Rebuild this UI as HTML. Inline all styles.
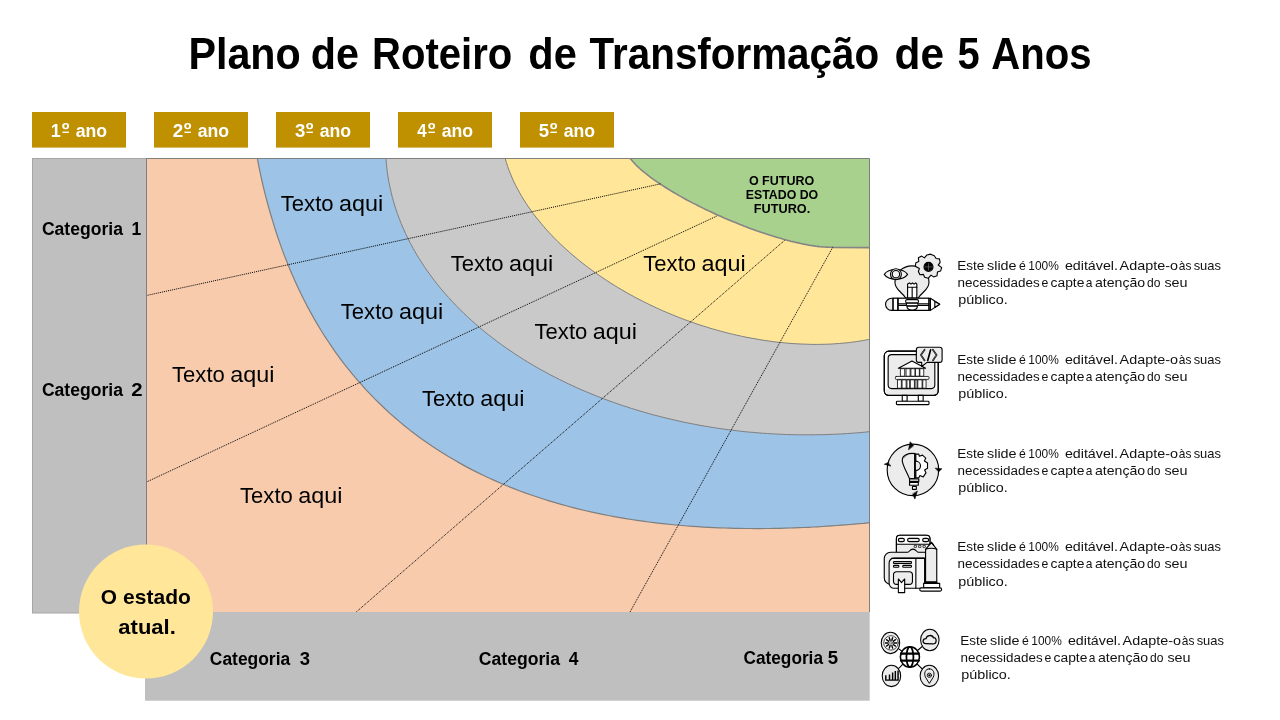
<!DOCTYPE html>
<html lang="pt"><head><meta charset="utf-8"><title>Plano de Roteiro de Transformação de 5 Anos</title>
<style>
html,body{margin:0;padding:0;background:#fff}
body{width:1280px;height:720px;overflow:hidden}
svg{display:block;will-change:transform;font-family:"Liberation Sans", sans-serif}
text{white-space:pre}
</style></head><body>
<svg width="1280" height="720" viewBox="0 0 1280 720">
<defs><clipPath id="cp"><rect x="146.5" y="158.5" width="723.0" height="453.5"/></clipPath></defs>
<rect width="1280" height="720" fill="#fff"/>
<rect x="32.5" y="158.5" width="114" height="454.5" fill="#bfbfbf" stroke="#a6a6a6" stroke-width="1"/>
<rect x="145" y="612" width="724.7" height="88.7" fill="#bfbfbf"/>
<g clip-path="url(#cp)">
<rect x="146.5" y="158.5" width="723.0" height="453.5" fill="#f8cbad"/>
<path d="M885.6,521.0 L881.2,521.5 L876.8,522.0 L872.4,522.4 L867.9,522.8 L863.5,523.3 L859.0,523.7 L854.5,524.1 L850.0,524.5 L845.5,524.8 L840.9,525.2 L836.3,525.5 L831.7,525.9 L827.1,526.2 L822.5,526.5 L817.8,526.8 L813.2,527.0 L808.5,527.3 L803.7,527.5 L799.0,527.7 L794.2,527.9 L789.4,528.0 L784.6,528.2 L779.7,528.3 L774.8,528.4 L769.9,528.5 L765.0,528.5 L760.0,528.6 L755.0,528.6 L750.0,528.5 L744.9,528.5 L739.8,528.4 L734.7,528.3 L729.6,528.2 L724.4,528.0 L719.2,527.8 L713.9,527.6 L708.7,527.4 L703.4,527.1 L698.0,526.7 L692.6,526.4 L687.2,526.0 L681.8,525.5 L676.3,525.0 L670.8,524.5 L665.3,523.9 L659.8,523.3 L654.2,522.7 L648.5,522.0 L642.9,521.2 L637.2,520.4 L631.5,519.5 L625.8,518.6 L620.0,517.6 L614.2,516.6 L608.4,515.5 L602.6,514.4 L596.7,513.1 L590.8,511.8 L584.9,510.5 L579.0,509.1 L573.1,507.6 L567.1,506.0 L561.1,504.4 L555.2,502.7 L549.2,500.9 L543.2,499.0 L537.2,497.0 L531.2,495.0 L525.2,492.9 L519.2,490.7 L513.3,488.4 L507.3,486.0 L501.3,483.5 L495.4,480.9 L489.5,478.2 L483.6,475.5 L477.7,472.6 L471.8,469.6 L466.0,466.6 L460.2,463.4 L454.5,460.1 L448.8,456.8 L443.1,453.3 L437.5,449.7 L431.9,446.1 L426.4,442.3 L421.0,438.4 L415.6,434.4 L410.3,430.4 L405.0,426.2 L399.8,421.9 L394.7,417.5 L389.6,413.1 L384.7,408.5 L379.8,403.8 L375.0,399.1 L370.3,394.2 L365.6,389.3 L361.1,384.2 L356.6,379.1 L352.2,373.9 L347.9,368.6 L343.7,363.3 L339.6,357.8 L335.6,352.3 L331.7,346.7 L327.9,341.0 L324.1,335.3 L320.5,329.5 L317.0,323.6 L313.5,317.6 L310.2,311.6 L306.9,305.6 L303.8,299.4 L300.7,293.3 L297.7,287.0 L294.9,280.7 L292.1,274.4 L289.4,268.0 L286.8,261.6 L284.2,255.1 L281.8,248.6 L279.5,242.1 L277.2,235.5 L275.0,228.8 L273.0,222.2 L271.0,215.5 L269.0,208.7 L267.2,202.0 L265.4,195.2 L263.7,188.4 L262.1,181.5 L260.6,174.6 L259.1,167.7 L257.8,160.8 L256.4,153.8 L255.2,146.9 L254.0,139.9 L252.9,132.8 L252.9,100 L900,100 L900,521.0 Z" fill="#9dc3e6" stroke="#7f7f7f" stroke-width="1.2" stroke-linejoin="round"/>
<path d="M881.4,430.3 L878.1,430.7 L874.7,431.1 L871.4,431.5 L868.0,431.8 L864.6,432.2 L861.2,432.5 L857.8,432.8 L854.4,433.0 L850.9,433.3 L847.5,433.5 L844.0,433.8 L840.5,434.0 L837.0,434.1 L833.5,434.3 L830.0,434.4 L826.5,434.6 L822.9,434.7 L819.3,434.7 L815.7,434.8 L812.1,434.8 L808.5,434.8 L804.9,434.8 L801.2,434.8 L797.6,434.8 L793.9,434.7 L790.2,434.6 L786.4,434.5 L782.7,434.3 L779.0,434.2 L775.2,434.0 L771.4,433.8 L767.6,433.5 L763.7,433.3 L759.9,433.0 L756.0,432.7 L752.2,432.3 L748.3,432.0 L744.3,431.6 L740.4,431.2 L736.4,430.7 L732.5,430.2 L728.5,429.7 L724.4,429.2 L720.4,428.6 L716.3,428.0 L712.3,427.4 L708.2,426.7 L704.1,426.0 L699.9,425.3 L695.8,424.5 L691.6,423.7 L687.4,422.9 L683.2,422.0 L679.0,421.1 L674.7,420.1 L670.5,419.1 L666.2,418.1 L661.9,417.0 L657.6,415.9 L653.2,414.8 L648.9,413.6 L644.5,412.3 L640.1,411.1 L635.7,409.7 L631.3,408.4 L626.9,406.9 L622.4,405.5 L618.0,404.0 L613.5,402.4 L609.0,400.8 L604.5,399.1 L600.0,397.4 L595.5,395.6 L591.0,393.8 L586.5,391.9 L582.0,390.0 L577.4,388.0 L572.9,385.9 L568.4,383.8 L563.8,381.6 L559.3,379.4 L554.8,377.1 L550.2,374.8 L545.7,372.3 L541.2,369.9 L536.7,367.3 L532.2,364.7 L527.7,362.0 L523.3,359.3 L518.8,356.4 L514.4,353.5 L510.0,350.6 L505.6,347.6 L501.3,344.5 L496.9,341.3 L492.7,338.0 L488.4,334.7 L484.2,331.3 L480.0,327.9 L475.9,324.3 L471.8,320.7 L467.8,317.0 L463.8,313.3 L459.9,309.4 L456.1,305.5 L452.3,301.6 L448.6,297.5 L444.9,293.4 L441.3,289.2 L437.8,284.9 L434.4,280.6 L431.1,276.2 L427.9,271.7 L424.7,267.2 L421.7,262.6 L418.7,257.9 L415.9,253.2 L413.1,248.4 L410.5,243.5 L408.0,238.6 L405.6,233.6 L403.4,228.6 L401.2,223.6 L399.2,218.4 L397.3,213.3 L395.5,208.1 L393.9,202.8 L392.4,197.5 L391.1,192.2 L389.9,186.9 L388.8,181.5 L387.9,176.1 L387.1,170.7 L386.5,165.2 L386.1,159.8 L385.7,154.3 L385.6,148.8 L385.6,143.4 L385.7,137.9 L385.7,100 L900,100 L900,430.3 Z" fill="#c9c9c9" stroke="#7f7f7f" stroke-width="1" stroke-linejoin="round"/>
<path d="M877.9,337.4 L875.6,338.0 L873.3,338.5 L870.9,339.0 L868.6,339.5 L866.2,339.9 L863.9,340.4 L861.5,340.8 L859.1,341.2 L856.7,341.5 L854.3,341.9 L851.9,342.2 L849.5,342.5 L847.0,342.8 L844.5,343.0 L842.1,343.2 L839.6,343.5 L837.1,343.6 L834.6,343.8 L832.1,344.0 L829.5,344.1 L827.0,344.2 L824.4,344.3 L821.9,344.3 L819.3,344.4 L816.7,344.4 L814.1,344.4 L811.5,344.4 L808.9,344.3 L806.2,344.2 L803.6,344.1 L800.9,344.0 L798.2,343.9 L795.6,343.7 L792.9,343.6 L790.2,343.4 L787.4,343.1 L784.7,342.9 L782.0,342.6 L779.2,342.3 L776.4,342.0 L773.7,341.7 L770.9,341.3 L768.1,340.9 L765.2,340.5 L762.4,340.1 L759.6,339.6 L756.7,339.1 L753.9,338.6 L751.0,338.1 L748.1,337.6 L745.2,337.0 L742.3,336.4 L739.4,335.7 L736.4,335.1 L733.5,334.4 L730.5,333.7 L727.6,333.0 L724.6,332.2 L721.6,331.4 L718.6,330.6 L715.6,329.7 L712.6,328.9 L709.5,328.0 L706.5,327.0 L703.4,326.1 L700.3,325.1 L697.2,324.1 L694.2,323.0 L691.0,321.9 L687.9,320.8 L684.8,319.7 L681.7,318.5 L678.5,317.3 L675.4,316.0 L672.2,314.7 L669.0,313.4 L665.9,312.1 L662.7,310.7 L659.5,309.3 L656.3,307.8 L653.1,306.3 L649.9,304.8 L646.6,303.2 L643.4,301.6 L640.2,299.9 L636.9,298.3 L633.7,296.5 L630.5,294.8 L627.2,293.0 L624.0,291.1 L620.8,289.2 L617.5,287.3 L614.3,285.3 L611.0,283.3 L607.8,281.2 L604.6,279.1 L601.4,276.9 L598.2,274.7 L595.0,272.5 L591.8,270.2 L588.6,267.8 L585.4,265.4 L582.3,263.0 L579.2,260.5 L576.1,257.9 L573.0,255.3 L569.9,252.7 L566.9,250.0 L563.9,247.2 L560.9,244.5 L557.9,241.6 L555.0,238.7 L552.2,235.8 L549.3,232.8 L546.5,229.7 L543.8,226.6 L541.1,223.4 L538.5,220.2 L535.9,217.0 L533.3,213.7 L530.9,210.3 L528.5,206.9 L526.2,203.5 L523.9,200.0 L521.7,196.4 L519.7,192.8 L517.7,189.2 L515.7,185.5 L513.9,181.8 L512.2,178.0 L510.6,174.2 L509.1,170.4 L507.7,166.5 L506.4,162.6 L505.3,158.7 L504.3,154.7 L503.4,150.8 L502.7,146.8 L502.1,142.7 L502.1,100 L900,100 L900,337.4 Z" fill="#ffe699" stroke="#7f7f7f" stroke-width="1" stroke-linejoin="round"/>
<path d="M833.1,247.5 L833.1,247.1 L831.3,247.2 L829.6,247.2 L827.9,247.2 L826.2,247.1 L824.5,247.0 L822.7,246.9 L821.0,246.7 L819.3,246.6 L817.6,246.4 L815.8,246.2 L814.1,245.9 L812.4,245.6 L810.6,245.4 L808.9,245.1 L807.1,244.7 L805.3,244.4 L803.5,244.1 L801.8,243.7 L800.0,243.3 L798.2,242.9 L796.3,242.5 L794.5,242.1 L792.7,241.6 L790.8,241.2 L789.0,240.7 L787.1,240.2 L785.2,239.7 L783.3,239.2 L781.4,238.6 L779.5,238.1 L777.6,237.5 L775.6,236.9 L773.6,236.3 L771.7,235.7 L769.7,235.1 L767.7,234.4 L765.6,233.8 L763.6,233.1 L761.6,232.4 L759.5,231.7 L757.4,231.0 L755.3,230.2 L753.1,229.4 L751.0,228.7 L748.8,227.9 L746.6,227.0 L744.4,226.2 L742.2,225.3 L740.0,224.5 L737.7,223.5 L735.4,222.6 L733.1,221.7 L730.8,220.7 L728.4,219.7 L726.0,218.7 L723.6,217.7 L721.2,216.6 L718.7,215.5 L716.3,214.4 L713.8,213.3 L711.2,212.1 L708.7,210.9 L706.1,209.7 L703.5,208.4 L700.9,207.1 L698.2,205.8 L695.6,204.4 L692.9,203.1 L690.2,201.6 L687.4,200.2 L684.7,198.7 L681.9,197.1 L679.1,195.6 L676.2,193.9 L673.4,192.3 L670.6,190.6 L667.7,188.8 L664.8,187.0 L662.0,185.2 L659.1,183.3 L656.3,181.4 L653.4,179.4 L650.6,177.3 L647.8,175.2 L645.1,173.0 L642.4,170.8 L639.7,168.5 L637.2,166.2 L634.8,163.8 L632.6,161.3 L630.5,158.8 L628.7,156.2 L627.3,153.5 L626.4,150.7 L626.1,147.9 L626.1,100 L900,100 L900,247.7 Z" fill="#a9d18e" stroke="#858585" stroke-width="1.6" stroke-linejoin="round"/>
<line x1="146.5" y1="295.5" x2="661" y2="183.75" stroke="#000" stroke-width="1" stroke-dasharray="1 1"/>
<line x1="146.5" y1="482" x2="717.5" y2="215.75" stroke="#000" stroke-width="1" stroke-dasharray="1 1"/>
<line x1="356.25" y1="612" x2="785" y2="240" stroke="#000" stroke-width="1" stroke-dasharray="1 1"/>
<line x1="630" y1="612" x2="832.7" y2="247.4" stroke="#000" stroke-width="1" stroke-dasharray="1 1"/>
</g>
<path d="M146.5,612.0 V158.5 H869.5 V612.0" fill="none" stroke="#7f7f7f" stroke-width="1"/>
<circle cx="146" cy="611.5" r="67" fill="#ffe699"/>
<rect x="32" y="112" width="94" height="35.6" fill="#bf9000"/>
<rect x="62.4" y="131.6" width="6.5" height="1.4" fill="#fff"/>
<rect x="154" y="112" width="94" height="35.6" fill="#bf9000"/>
<rect x="184.4" y="131.6" width="6.5" height="1.4" fill="#fff"/>
<rect x="276" y="112" width="94" height="35.6" fill="#bf9000"/>
<rect x="306.4" y="131.6" width="6.5" height="1.4" fill="#fff"/>
<rect x="398" y="112" width="94" height="35.6" fill="#bf9000"/>
<rect x="428.4" y="131.6" width="6.5" height="1.4" fill="#fff"/>
<rect x="520" y="112" width="94" height="35.6" fill="#bf9000"/>
<rect x="550.4" y="131.6" width="6.5" height="1.4" fill="#fff"/>
<g id="icon1" transform="translate(876,246) scale(0.09721)" stroke="#000" stroke-width="11.5" stroke-linejoin="round" stroke-linecap="round" fill="#ececec">
<path d="M305,535 C265,470 195,450 195,372 A175,168 0 0 1 545,372 C545,450 475,470 435,535 Z"/>
<path d="M85,292 C130,225 280,225 325,292 C280,358 130,358 85,292 Z" fill="#f4f4f4"/>
<circle cx="205" cy="290" r="56" fill="#f4f4f4"/><circle cx="205" cy="290" r="38" fill="#f4f4f4"/>
<path d="M562,84 L600,100 L618,128 L652,132 L660,168 L640,196 L676,222 L664,258 L632,268 L628,306 L592,318 L566,300 L536,332 L500,322 L488,292 L452,296 L436,262 L446,232 L404,208 L410,172 L440,160 L436,122 L470,104 L498,122 L524,92 Z"/>
<circle cx="540" cy="215" r="46" fill="#000"/>
<path d="M540,180 V250 M505,215 H575" stroke="#999" stroke-width="5" fill="none"/>
<path d="M325,535 V390 L345,380 L360,392 L375,380 L392,392 L408,380 L420,390 V535 Z" fill="#fff"/>
<path d="M325,425 H420 M372,425 V535" fill="none"/>
<path d="M160,538 H560 V662 H160 A62,62 0 0 1 160,538 Z"/>
<rect x="225" y="538" width="320" height="124" fill="#fff"/><rect x="175" y="538" width="50" height="124" fill="#fff"/><path d="M560,538 L655,600 L560,662 Z" fill="#fff"/>
<path d="M605,570 L655,600 L605,632 Z"/>
<path d="M175,538 V662 M225,538 V662 M545,538 V662 M225,595 H310 M225,612 H310 M435,595 H545 M435,612 H545" fill="none"/>
<rect x="305" y="552" width="132" height="34" rx="15" fill="#fff"/>
<rect x="312" y="588" width="120" height="28" rx="12" fill="#fff"/>
<path d="M318,620 H426 C426,650 400,658 372,658 C344,658 318,650 318,620 Z" fill="#fff"/>
</g>
<g id="icon2" transform="translate(876,340) scale(0.09721)" stroke="#000" stroke-width="11.5" stroke-linejoin="round" stroke-linecap="round" fill="#ececec">
<rect x="85" y="115" width="555" height="455" rx="48" fill="#fff"/>
<path d="M97,505 H628 V525 A38,38 0 0 1 590,562 H135 A38,38 0 0 1 97,525 Z" stroke="none"/>
<rect x="85" y="115" width="555" height="455" rx="48" fill="none"/>
<rect x="125" y="150" width="480" height="350" rx="36"/>
<rect x="270" y="570" width="50" height="60" fill="#fff"/><rect x="435" y="570" width="50" height="60" fill="#fff"/>
<rect x="210" y="630" width="335" height="35" rx="8" fill="#fff"/>
<path d="M230,290 L370,215 L510,290 Z" fill="#fff"/>
<g fill="#fff" stroke-width="8"><rect x="255" y="295" width="40" height="78"/><rect x="313" y="295" width="38" height="78"/><rect x="363" y="295" width="38" height="78"/><rect x="410" y="295" width="36" height="78"/><rect x="455" y="295" width="36" height="78"/>
<rect x="225" y="410" width="36" height="86"/><rect x="272" y="410" width="38" height="86"/><rect x="322" y="410" width="24" height="86"/><rect x="357" y="410" width="38" height="86"/><rect x="406" y="410" width="16" height="86"/><rect x="434" y="410" width="40" height="86"/><rect x="485" y="410" width="30" height="86"/>
<rect x="200" y="375" width="345" height="30" rx="8"/></g>
<path d="M440,75 H655 A25,25 0 0 1 680,100 V205 A25,25 0 0 1 655,230 H525 L470,272 V230 H440 A25,25 0 0 1 415,205 V100 A25,25 0 0 1 440,75 Z"/>
<path d="M500,100 L462,155 L500,210 M585,100 L623,155 L585,210 M562,100 L532,210" fill="none" stroke-width="17"/>
<path d="M500,100 L462,155 L500,210 M585,100 L623,155 L585,210" fill="none" stroke="#ececec" stroke-width="4"/>
</g>
<g id="icon3" transform="translate(876,432) scale(0.09721)" stroke="#000" stroke-width="11.5" stroke-linejoin="round" stroke-linecap="round" fill="#ececec">
<circle cx="380" cy="390" r="265"/>
<g fill="#000" stroke-width="6"><path d="M335,180 L352,100 L385,140 Z"/><path d="M612,372 L678,378 L646,408 Z"/><path d="M425,610 L400,690 L378,640 Z"/><path d="M150,350 L85,332 L122,316 Z"/></g>
<path d="M410,228 H440 L446,250 L478,238 L512,268 L498,298 L530,318 L530,372 L500,390 L514,420 L486,462 L452,448 L440,470 H410 Z" fill="#fff"/>
<path d="M410,300 A48,48 0 0 1 410,396" fill="#ececec"/>
<path d="M400,222 C340,212 270,236 270,292 C270,335 322,425 345,480 H400 Z"/>
<path d="M290,262 C300,245 312,238 326,232" fill="none" stroke-width="6"/>
<path d="M400,222 V480" stroke-width="15"/>
<rect x="345" y="482" width="95" height="26" fill="#fff"/><rect x="345" y="520" width="90" height="28" fill="#fff"/>
<path d="M345,514 H438" stroke-width="12"/>
<rect x="375" y="560" width="40" height="30" fill="#fff"/>
</g>
<g id="icon4" transform="translate(876,526) scale(0.09721)" stroke="#000" stroke-width="11.5" stroke-linejoin="round" stroke-linecap="round" fill="#ececec">
<path d="M210,275 V130 A35,35 0 0 1 245,95 H520 A35,35 0 0 1 555,130 V275 Z"/>
<path d="M214,185 V130 A32,32 0 0 1 245,99 H520 A32,32 0 0 1 551,130 V185 Z" fill="#fff" stroke="none"/>
<path d="M210,188 H555" fill="none"/><path d="M210,275 V130 A35,35 0 0 1 245,95 H520 A35,35 0 0 1 555,130 V275" fill="none"/>
<rect x="230" y="127" width="62" height="34" rx="17"/><rect x="325" y="127" width="120" height="34" rx="17"/><rect x="480" y="127" width="62" height="34" rx="17"/>
<g fill="#fff" stroke-width="7"><rect x="397" y="200" width="20" height="20"/><rect x="442" y="200" width="20" height="20"/><rect x="487" y="200" width="20" height="20"/></g>
<path d="M150,270 H325 C345,270 345,238 380,238 C415,238 415,270 435,270 H510 V600 H150 A65,65 0 0 1 85,535 V335 A65,65 0 0 1 150,270 Z"/>
<path d="M185,330 H500 V640 H185 A50,50 0 0 1 135,590 V380 A50,50 0 0 1 185,330 Z" fill="#f6f6f6"/>
<path d="M160,333 H500" stroke-width="13" fill="none"/>
<path d="M410,340 V640" fill="none"/>
<rect x="180" y="365" width="185" height="20" rx="8"/><rect x="180" y="405" width="55" height="20" rx="8"/><rect x="275" y="405" width="90" height="20" rx="8"/>
<rect x="180" y="470" width="195" height="130" rx="32"/>
<path d="M230,545 L262,582 L295,545 V685 H230 Z" fill="#fff"/>
<path d="M510,582 V240 L570,168 L625,240 V582 Z"/>
<path d="M510,240 C540,225 595,225 625,240 M548,195 L570,168 L592,195" fill="none"/>
<rect x="510" y="575" width="115" height="10" fill="#000"/>
<rect x="490" y="590" width="165" height="42" fill="#fff"/>
<rect x="450" y="636" width="225" height="34" rx="16" fill="#fff"/>
</g>
<g id="icon5" transform="translate(872,622) scale(0.09721)" stroke="#000" stroke-width="11" stroke-linejoin="round" stroke-linecap="round" fill="#ececec">
<path d="M390,360 L190,215 M390,360 L595,185 M390,360 L200,555 M390,360 L590,555" fill="none"/>
<ellipse cx="190" cy="215" rx="95" ry="110"/><ellipse cx="595" cy="185" rx="95" ry="110"/><ellipse cx="200" cy="555" rx="95" ry="110"/><ellipse cx="590" cy="555" rx="95" ry="110"/>
<ellipse cx="390" cy="360" rx="98" ry="106" fill="#fff" stroke-width="16"/>
<ellipse cx="390" cy="360" rx="36" ry="104" fill="none" stroke-width="18"/>
<path d="M298,325 H482 M298,397 H482" fill="none" stroke-width="22"/>
<circle cx="195" cy="215" r="74" fill="#fff" stroke-width="7"/>
<path d="M219,215 L257,215 M214,229 L245,251 M202,238 L214,274 M188,238 L176,274 M176,229 L145,251 M171,215 L133,215 M176,201 L145,179 M188,192 L176,156 M202,192 L214,156 M214,201 L245,179" fill="none" stroke-width="15" stroke-linecap="butt"/>
<circle cx="195" cy="215" r="14" fill="#fff" stroke-width="6"/>
<path d="M552,222 C515,222 518,170 556,172 C562,132 622,128 632,162 C672,158 668,226 626,226 Z" stroke-width="13"/>
<path d="M142,548 V598 H268 V500 M180,598 V540 M212,598 V520 M240,598 V505" fill="none" stroke-width="15" stroke-linecap="butt" stroke-linejoin="miter"/>
<path d="M590,482 C545,482 532,528 550,568 L590,632 L630,568 C648,528 635,482 590,482 Z" stroke-width="10"/>
<circle cx="590" cy="548" r="22" stroke-width="9"/><circle cx="590" cy="548" r="6" fill="#000"/>
</g>

<text transform="translate(188.42,68.90) scale(0.9464,1)" font-size="43.6" font-weight="700" fill="#000" xml:space="preserve">Plano</text>
<text transform="translate(310.85,68.90) scale(0.9480,1)" font-size="43.6" font-weight="700" fill="#000" xml:space="preserve">de</text>
<text transform="translate(372.10,68.90) scale(0.9183,1)" font-size="43.6" font-weight="700" fill="#000" xml:space="preserve">Roteiro</text>
<text transform="translate(528.34,68.90) scale(0.9532,1)" font-size="43.6" font-weight="700" fill="#000" xml:space="preserve">de</text>
<text transform="translate(589.60,68.90) scale(0.9266,1)" font-size="43.6" font-weight="700" fill="#000" xml:space="preserve">Transformação</text>
<text transform="translate(894.55,68.90) scale(0.9740,1)" font-size="43.6" font-weight="700" fill="#000" xml:space="preserve">de</text>
<text transform="translate(957.55,68.90) scale(0.9174,1)" font-size="43.6" font-weight="700" fill="#000" xml:space="preserve">5</text>
<text transform="translate(991.20,68.90) scale(0.9197,1)" font-size="43.6" font-weight="700" fill="#000" xml:space="preserve">Anos</text>
<text transform="translate(50.63,136.90) scale(0.9609,1)" font-size="18.6" font-weight="700" fill="#fff" xml:space="preserve">1</text>
<text transform="translate(61.69,136.20) scale(1.2000,1)" font-size="17.6" font-weight="700" fill="#fff" xml:space="preserve">º</text>
<text transform="translate(75.75,136.90) scale(0.9495,1)" font-size="18.6" font-weight="700" fill="#fff" xml:space="preserve">ano</text>
<text transform="translate(172.83,136.90) scale(1.0204,1)" font-size="18.6" font-weight="700" fill="#fff" xml:space="preserve">2</text>
<text transform="translate(183.69,136.20) scale(1.2000,1)" font-size="17.6" font-weight="700" fill="#fff" xml:space="preserve">º</text>
<text transform="translate(197.75,136.90) scale(0.9495,1)" font-size="18.6" font-weight="700" fill="#fff" xml:space="preserve">ano</text>
<text transform="translate(295.03,136.90) scale(1.0000,1)" font-size="18.6" font-weight="700" fill="#fff" xml:space="preserve">3</text>
<text transform="translate(305.69,136.20) scale(1.2000,1)" font-size="17.6" font-weight="700" fill="#fff" xml:space="preserve">º</text>
<text transform="translate(319.75,136.90) scale(0.9495,1)" font-size="18.6" font-weight="700" fill="#fff" xml:space="preserve">ano</text>
<text transform="translate(417.23,136.90) scale(0.9091,1)" font-size="18.6" font-weight="700" fill="#fff" xml:space="preserve">4</text>
<text transform="translate(427.69,136.20) scale(1.2000,1)" font-size="17.6" font-weight="700" fill="#fff" xml:space="preserve">º</text>
<text transform="translate(441.75,136.90) scale(0.9495,1)" font-size="18.6" font-weight="700" fill="#fff" xml:space="preserve">ano</text>
<text transform="translate(538.84,136.90) scale(1.0000,1)" font-size="18.6" font-weight="700" fill="#fff" xml:space="preserve">5</text>
<text transform="translate(549.69,136.20) scale(1.2000,1)" font-size="17.6" font-weight="700" fill="#fff" xml:space="preserve">º</text>
<text transform="translate(563.75,136.90) scale(0.9495,1)" font-size="18.6" font-weight="700" fill="#fff" xml:space="preserve">ano</text>
<text transform="translate(41.90,234.80) scale(0.9604,1)" font-size="18.3" font-weight="700" fill="#000" xml:space="preserve">Categoria</text>
<text transform="translate(131.55,234.80) scale(0.9534,1)" font-size="18.3" font-weight="700" fill="#000" xml:space="preserve">1</text>
<text transform="translate(41.90,395.60) scale(0.9604,1)" font-size="18.3" font-weight="700" fill="#000" xml:space="preserve">Categoria</text>
<text transform="translate(131.14,395.60) scale(1.1152,1)" font-size="18.3" font-weight="700" fill="#000" xml:space="preserve">2</text>
<text transform="translate(209.80,665.00) scale(0.9532,1)" font-size="18.3" font-weight="700" fill="#000" xml:space="preserve">Categoria</text>
<text transform="translate(299.63,665.00) scale(1.0109,1)" font-size="18.3" font-weight="700" fill="#000" xml:space="preserve">3</text>
<text transform="translate(478.80,664.70) scale(0.9627,1)" font-size="18.3" font-weight="700" fill="#000" xml:space="preserve">Categoria</text>
<text transform="translate(568.73,664.70) scale(0.9538,1)" font-size="18.3" font-weight="700" fill="#000" xml:space="preserve">4</text>
<text transform="translate(743.51,664.00) scale(0.9425,1)" font-size="18.3" font-weight="700" fill="#000" xml:space="preserve">Categoria</text>
<text transform="translate(827.84,664.00) scale(1.0164,1)" font-size="18.3" font-weight="700" fill="#000" xml:space="preserve">5</text>
<text transform="translate(280.81,211.25) scale(1.0408,1)" font-size="21.2" fill="#000" xml:space="preserve">Texto</text>
<text transform="translate(339.06,211.25) scale(1.1038,1)" font-size="21.2" fill="#000" xml:space="preserve">aqui</text>
<text transform="translate(450.81,270.50) scale(1.0408,1)" font-size="21.2" fill="#000" xml:space="preserve">Texto</text>
<text transform="translate(509.06,270.50) scale(1.1038,1)" font-size="21.2" fill="#000" xml:space="preserve">aqui</text>
<text transform="translate(643.31,270.50) scale(1.0408,1)" font-size="21.2" fill="#000" xml:space="preserve">Texto</text>
<text transform="translate(701.56,270.50) scale(1.1038,1)" font-size="21.2" fill="#000" xml:space="preserve">aqui</text>
<text transform="translate(340.81,318.75) scale(1.0408,1)" font-size="21.2" fill="#000" xml:space="preserve">Texto</text>
<text transform="translate(399.06,318.75) scale(1.1038,1)" font-size="21.2" fill="#000" xml:space="preserve">aqui</text>
<text transform="translate(534.56,338.75) scale(1.0408,1)" font-size="21.2" fill="#000" xml:space="preserve">Texto</text>
<text transform="translate(592.81,338.75) scale(1.1038,1)" font-size="21.2" fill="#000" xml:space="preserve">aqui</text>
<text transform="translate(172.06,381.75) scale(1.0408,1)" font-size="21.2" fill="#000" xml:space="preserve">Texto</text>
<text transform="translate(230.31,381.75) scale(1.1038,1)" font-size="21.2" fill="#000" xml:space="preserve">aqui</text>
<text transform="translate(422.06,405.75) scale(1.0408,1)" font-size="21.2" fill="#000" xml:space="preserve">Texto</text>
<text transform="translate(480.31,405.75) scale(1.1038,1)" font-size="21.2" fill="#000" xml:space="preserve">aqui</text>
<text transform="translate(240.06,502.50) scale(1.0408,1)" font-size="21.2" fill="#000" xml:space="preserve">Texto</text>
<text transform="translate(298.31,502.50) scale(1.1038,1)" font-size="21.2" fill="#000" xml:space="preserve">aqui</text>
<text transform="translate(748.90,184.60) scale(1.0254,1)" font-size="12.2" font-weight="700" fill="#000" xml:space="preserve">O FUTURO</text>
<text transform="translate(745.76,198.75) scale(1.0117,1)" font-size="12.2" font-weight="700" fill="#000" xml:space="preserve">ESTADO DO</text>
<text transform="translate(753.84,212.50) scale(1.0407,1)" font-size="12.2" font-weight="700" fill="#000" xml:space="preserve">FUTURO.</text>
<text transform="translate(100.77,604.40) scale(1.0641,1)" font-size="19.6" font-weight="700" fill="#000" xml:space="preserve">O</text>
<text transform="translate(123.07,604.40) scale(1.0729,1)" font-size="19.6" font-weight="700" fill="#000" xml:space="preserve">estado</text>
<text transform="translate(118.36,633.50) scale(1.1219,1)" font-size="19.6" font-weight="700" fill="#000" xml:space="preserve">atual.</text>
<text transform="translate(957.21,270.10) scale(1.1042,1)" font-size="12.3" fill="#111" xml:space="preserve">Este</text>
<text transform="translate(987.04,270.10) scale(1.1700,1)" font-size="12.3" fill="#111" xml:space="preserve">slide</text>
<text transform="translate(1019.11,270.10) scale(0.9993,1)" font-size="12.3" fill="#111" xml:space="preserve">é</text>
<text transform="translate(1028.25,270.10) scale(0.9700,1)" font-size="12.3" fill="#111" xml:space="preserve">100%</text>
<text transform="translate(1064.93,270.10) scale(1.1573,1)" font-size="12.3" fill="#111" xml:space="preserve">editável.</text>
<text transform="translate(1119.56,270.10) scale(1.1700,1)" font-size="12.3" fill="#111" xml:space="preserve">Adapte-o</text>
<text transform="translate(1178.79,270.10) scale(0.9700,1)" font-size="12.3" fill="#111" xml:space="preserve">às</text>
<text transform="translate(1193.64,270.10) scale(1.0526,1)" font-size="12.3" fill="#111" xml:space="preserve">suas</text>
<text transform="translate(957.49,287.20) scale(1.0930,1)" font-size="12.3" fill="#111" xml:space="preserve">necessidades</text>
<text transform="translate(1041.41,287.20) scale(0.9993,1)" font-size="12.3" fill="#111" xml:space="preserve">e</text>
<text transform="translate(1050.55,287.20) scale(1.1251,1)" font-size="12.3" fill="#111" xml:space="preserve">capte</text>
<text transform="translate(1085.67,287.20) scale(0.9700,1)" font-size="12.3" fill="#111" xml:space="preserve">a</text>
<text transform="translate(1094.93,287.20) scale(1.1486,1)" font-size="12.3" fill="#111" xml:space="preserve">atenção</text>
<text transform="translate(1147.02,287.20) scale(0.9808,1)" font-size="12.3" fill="#111" xml:space="preserve">do</text>
<text transform="translate(1164.43,287.20) scale(1.1700,1)" font-size="12.3" fill="#111" xml:space="preserve">seu</text>
<text transform="translate(958.20,304.30) scale(1.1700,1)" font-size="12.3" fill="#111" xml:space="preserve">público.</text>
<text transform="translate(957.21,363.85) scale(1.1042,1)" font-size="12.3" fill="#111" xml:space="preserve">Este</text>
<text transform="translate(987.04,363.85) scale(1.1700,1)" font-size="12.3" fill="#111" xml:space="preserve">slide</text>
<text transform="translate(1019.11,363.85) scale(0.9993,1)" font-size="12.3" fill="#111" xml:space="preserve">é</text>
<text transform="translate(1028.25,363.85) scale(0.9700,1)" font-size="12.3" fill="#111" xml:space="preserve">100%</text>
<text transform="translate(1064.93,363.85) scale(1.1573,1)" font-size="12.3" fill="#111" xml:space="preserve">editável.</text>
<text transform="translate(1119.56,363.85) scale(1.1700,1)" font-size="12.3" fill="#111" xml:space="preserve">Adapte-o</text>
<text transform="translate(1178.79,363.85) scale(0.9700,1)" font-size="12.3" fill="#111" xml:space="preserve">às</text>
<text transform="translate(1193.64,363.85) scale(1.0526,1)" font-size="12.3" fill="#111" xml:space="preserve">suas</text>
<text transform="translate(957.49,380.95) scale(1.0930,1)" font-size="12.3" fill="#111" xml:space="preserve">necessidades</text>
<text transform="translate(1041.41,380.95) scale(0.9993,1)" font-size="12.3" fill="#111" xml:space="preserve">e</text>
<text transform="translate(1050.55,380.95) scale(1.1251,1)" font-size="12.3" fill="#111" xml:space="preserve">capte</text>
<text transform="translate(1085.67,380.95) scale(0.9700,1)" font-size="12.3" fill="#111" xml:space="preserve">a</text>
<text transform="translate(1094.93,380.95) scale(1.1486,1)" font-size="12.3" fill="#111" xml:space="preserve">atenção</text>
<text transform="translate(1147.02,380.95) scale(0.9808,1)" font-size="12.3" fill="#111" xml:space="preserve">do</text>
<text transform="translate(1164.43,380.95) scale(1.1700,1)" font-size="12.3" fill="#111" xml:space="preserve">seu</text>
<text transform="translate(958.20,398.05) scale(1.1700,1)" font-size="12.3" fill="#111" xml:space="preserve">público.</text>
<text transform="translate(957.21,457.60) scale(1.1042,1)" font-size="12.3" fill="#111" xml:space="preserve">Este</text>
<text transform="translate(987.04,457.60) scale(1.1700,1)" font-size="12.3" fill="#111" xml:space="preserve">slide</text>
<text transform="translate(1019.11,457.60) scale(0.9993,1)" font-size="12.3" fill="#111" xml:space="preserve">é</text>
<text transform="translate(1028.25,457.60) scale(0.9700,1)" font-size="12.3" fill="#111" xml:space="preserve">100%</text>
<text transform="translate(1064.93,457.60) scale(1.1573,1)" font-size="12.3" fill="#111" xml:space="preserve">editável.</text>
<text transform="translate(1119.56,457.60) scale(1.1700,1)" font-size="12.3" fill="#111" xml:space="preserve">Adapte-o</text>
<text transform="translate(1178.79,457.60) scale(0.9700,1)" font-size="12.3" fill="#111" xml:space="preserve">às</text>
<text transform="translate(1193.64,457.60) scale(1.0526,1)" font-size="12.3" fill="#111" xml:space="preserve">suas</text>
<text transform="translate(957.49,474.70) scale(1.0930,1)" font-size="12.3" fill="#111" xml:space="preserve">necessidades</text>
<text transform="translate(1041.41,474.70) scale(0.9993,1)" font-size="12.3" fill="#111" xml:space="preserve">e</text>
<text transform="translate(1050.55,474.70) scale(1.1251,1)" font-size="12.3" fill="#111" xml:space="preserve">capte</text>
<text transform="translate(1085.67,474.70) scale(0.9700,1)" font-size="12.3" fill="#111" xml:space="preserve">a</text>
<text transform="translate(1094.93,474.70) scale(1.1486,1)" font-size="12.3" fill="#111" xml:space="preserve">atenção</text>
<text transform="translate(1147.02,474.70) scale(0.9808,1)" font-size="12.3" fill="#111" xml:space="preserve">do</text>
<text transform="translate(1164.43,474.70) scale(1.1700,1)" font-size="12.3" fill="#111" xml:space="preserve">seu</text>
<text transform="translate(958.20,491.80) scale(1.1700,1)" font-size="12.3" fill="#111" xml:space="preserve">público.</text>
<text transform="translate(957.21,551.35) scale(1.1042,1)" font-size="12.3" fill="#111" xml:space="preserve">Este</text>
<text transform="translate(987.04,551.35) scale(1.1700,1)" font-size="12.3" fill="#111" xml:space="preserve">slide</text>
<text transform="translate(1019.11,551.35) scale(0.9993,1)" font-size="12.3" fill="#111" xml:space="preserve">é</text>
<text transform="translate(1028.25,551.35) scale(0.9700,1)" font-size="12.3" fill="#111" xml:space="preserve">100%</text>
<text transform="translate(1064.93,551.35) scale(1.1573,1)" font-size="12.3" fill="#111" xml:space="preserve">editável.</text>
<text transform="translate(1119.56,551.35) scale(1.1700,1)" font-size="12.3" fill="#111" xml:space="preserve">Adapte-o</text>
<text transform="translate(1178.79,551.35) scale(0.9700,1)" font-size="12.3" fill="#111" xml:space="preserve">às</text>
<text transform="translate(1193.64,551.35) scale(1.0526,1)" font-size="12.3" fill="#111" xml:space="preserve">suas</text>
<text transform="translate(957.49,568.45) scale(1.0930,1)" font-size="12.3" fill="#111" xml:space="preserve">necessidades</text>
<text transform="translate(1041.41,568.45) scale(0.9993,1)" font-size="12.3" fill="#111" xml:space="preserve">e</text>
<text transform="translate(1050.55,568.45) scale(1.1251,1)" font-size="12.3" fill="#111" xml:space="preserve">capte</text>
<text transform="translate(1085.67,568.45) scale(0.9700,1)" font-size="12.3" fill="#111" xml:space="preserve">a</text>
<text transform="translate(1094.93,568.45) scale(1.1486,1)" font-size="12.3" fill="#111" xml:space="preserve">atenção</text>
<text transform="translate(1147.02,568.45) scale(0.9808,1)" font-size="12.3" fill="#111" xml:space="preserve">do</text>
<text transform="translate(1164.43,568.45) scale(1.1700,1)" font-size="12.3" fill="#111" xml:space="preserve">seu</text>
<text transform="translate(958.20,585.55) scale(1.1700,1)" font-size="12.3" fill="#111" xml:space="preserve">público.</text>
<text transform="translate(960.21,645.10) scale(1.1042,1)" font-size="12.3" fill="#111" xml:space="preserve">Este</text>
<text transform="translate(990.04,645.10) scale(1.1700,1)" font-size="12.3" fill="#111" xml:space="preserve">slide</text>
<text transform="translate(1022.11,645.10) scale(0.9993,1)" font-size="12.3" fill="#111" xml:space="preserve">é</text>
<text transform="translate(1031.25,645.10) scale(0.9700,1)" font-size="12.3" fill="#111" xml:space="preserve">100%</text>
<text transform="translate(1067.93,645.10) scale(1.1573,1)" font-size="12.3" fill="#111" xml:space="preserve">editável.</text>
<text transform="translate(1122.56,645.10) scale(1.1700,1)" font-size="12.3" fill="#111" xml:space="preserve">Adapte-o</text>
<text transform="translate(1181.79,645.10) scale(0.9700,1)" font-size="12.3" fill="#111" xml:space="preserve">às</text>
<text transform="translate(1196.64,645.10) scale(1.0526,1)" font-size="12.3" fill="#111" xml:space="preserve">suas</text>
<text transform="translate(960.49,662.20) scale(1.0930,1)" font-size="12.3" fill="#111" xml:space="preserve">necessidades</text>
<text transform="translate(1044.41,662.20) scale(0.9993,1)" font-size="12.3" fill="#111" xml:space="preserve">e</text>
<text transform="translate(1053.55,662.20) scale(1.1251,1)" font-size="12.3" fill="#111" xml:space="preserve">capte</text>
<text transform="translate(1088.67,662.20) scale(0.9700,1)" font-size="12.3" fill="#111" xml:space="preserve">a</text>
<text transform="translate(1097.93,662.20) scale(1.1486,1)" font-size="12.3" fill="#111" xml:space="preserve">atenção</text>
<text transform="translate(1150.02,662.20) scale(0.9808,1)" font-size="12.3" fill="#111" xml:space="preserve">do</text>
<text transform="translate(1167.43,662.20) scale(1.1700,1)" font-size="12.3" fill="#111" xml:space="preserve">seu</text>
<text transform="translate(961.20,679.30) scale(1.1700,1)" font-size="12.3" fill="#111" xml:space="preserve">público.</text>
</svg>
</body></html>
